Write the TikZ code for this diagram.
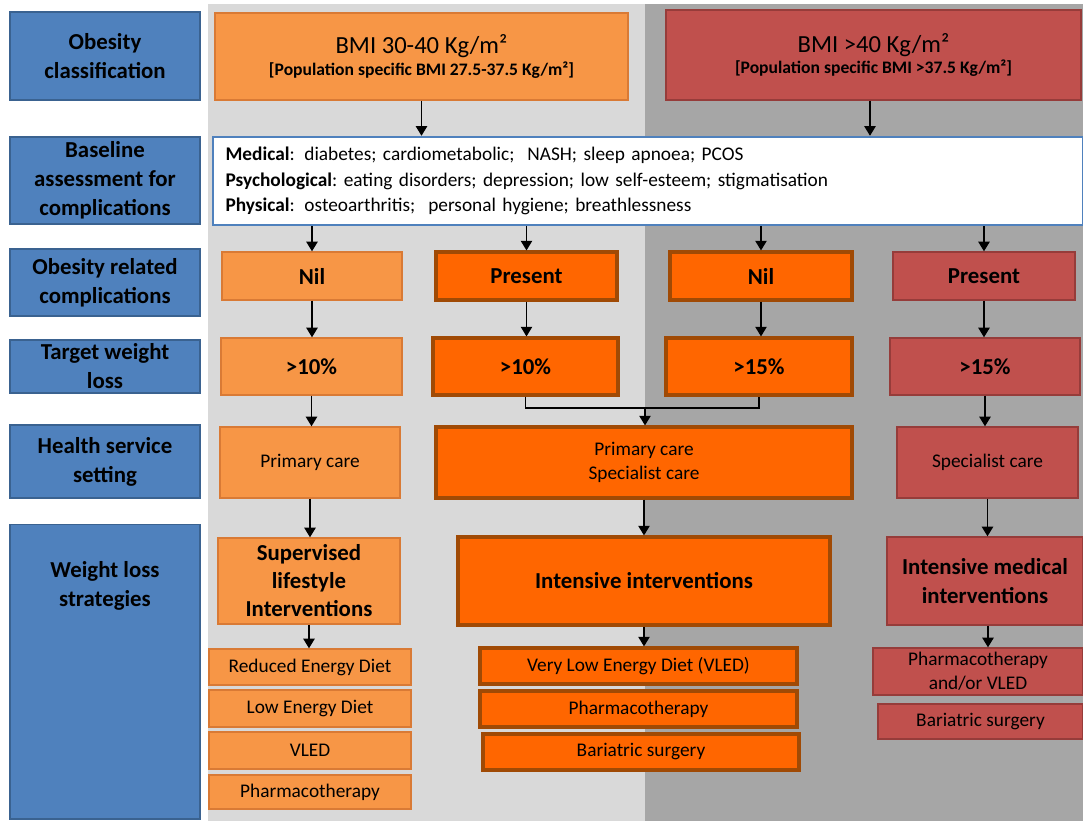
\documentclass[tikz,border=0pt]{standalone}
\usepackage{fontspec}
\setmainfont{Carlito}
\usetikzlibrary{arrows.meta}

\definecolor{bluefill}{HTML}{4F81BD}
\definecolor{blueedge}{HTML}{3A6290}
\definecolor{litefill}{HTML}{F79646}
\definecolor{liteedge}{HTML}{D97A35}
\definecolor{hotfill}{HTML}{FF6600}
\definecolor{hotedge}{HTML}{A04A05}
\definecolor{sevfill}{HTML}{C0504D}
\definecolor{sevedge}{HTML}{963C3A}
\definecolor{paleback}{HTML}{D9D9D9}
\definecolor{darkback}{HTML}{A6A6A6}

\begin{document}
\begin{tikzpicture}[x=0.02cm, y=-0.02cm,
        cat/.style={draw=blueedge, fill=bluefill, line width=0.6pt, align=center, inner sep=0pt,
            minimum width=3.8cm, font=\bfseries\fontsize{13}{16.5}\selectfont},
        lite/.style={draw=liteedge, fill=litefill, line width=0.8pt, align=center, inner sep=0pt},
        hot/.style={draw=hotedge, fill=hotfill, line width=1.8pt, align=center, inner sep=0pt},
        sev/.style={draw=sevedge, fill=sevfill, line width=0.8pt, align=center, inner sep=0pt},
        big/.style={font=\bfseries\fontsize{13}{16}\selectfont},
        small/.style={font=\fontsize{11}{14}\selectfont},
        link/.style={-{Triangle[length=5.5pt,width=6.5pt]}, line width=0.75pt}]
        \useasboundingbox (0,0) rectangle (1083,821);
        \fill[paleback] (208,4) rectangle (645,821);
        \fill[darkback] (645,4) rectangle (1083,821);

        % row labels
        \node[cat, minimum height=1.76cm] (cls) at (105,56) {Obesity\\classification};
        \node[cat, minimum height=1.74cm] (base) at (105,180.5) {Baseline\\assessment for\\complications};
        \node[cat, minimum height=1.34cm] (comp) at (105,282.5) {Obesity related\\complications};
        \node[cat, minimum height=1.06cm] (target) at (105,366.5) {Target weight\\loss};
        \node[cat, minimum height=1.46cm] (health) at (105,461.5) {Health service\\setting};
        \node[cat, minimum height=5.9cm] (strat) at (105,671.5) {};
        \node[align=center, font=\bfseries\fontsize{13}{16.5}\selectfont] (stratlbl) at (105,586) {Weight loss\\strategies};

        % BMI classes
        \node[lite, minimum width=8.26cm, minimum height=1.74cm] (bmi1) at (421.5,56.5)
            {{\fontsize{14}{20}\selectfont BMI 30-40 Kg/m²}\\
             {\bfseries\fontsize{10}{12}\selectfont [Population specific BMI 27.5-37.5 Kg/m²]}};
        \node[sev, minimum width=8.3cm, minimum height=1.8cm] (bmi2) at (873.5,55)
            {{\fontsize{14}{20}\selectfont BMI >40 Kg/m²}\\
             {\bfseries\fontsize{10}{12}\selectfont [Population specific BMI >37.5 Kg/m²]}};

        % assessment
        \node[draw=bluefill, fill=white, line width=1.4pt, minimum width=17.4cm, minimum height=1.76cm,
            text width=16.9cm, align=left, inner sep=0pt, font=\fontsize{11}{14.7}\selectfont] (assess) at (648,181)
            {\textbf{Medical}: diabetes; cardiometabolic;\ \ NASH; sleep apnoea; PCOS\\
             \textbf{Psychological}:\ eating disorders; depression;\ low self-esteem; stigmatisation\\
             \textbf{Physical}: osteoarthritis;\ \ personal hygiene; breathlessness};

        % complications
        \node[lite, big, minimum width=3.6cm, minimum height=0.96cm] (nil1) at (312,276) {Nil};
        \node[hot, big, minimum width=3.62cm, minimum height=0.96cm] (pres1) at (526.5,276) {Present};
        \node[hot, big, minimum width=3.64cm, minimum height=0.96cm] (nil2) at (761,276) {Nil};
        \node[sev, big, minimum width=3.64cm, minimum height=0.96cm] (pres2) at (984,276) {Present};

        % target weight loss
        \node[lite, big, minimum width=3.62cm, minimum height=1.14cm] (tgt1) at (311.5,366.5) {>10\%};
        \node[hot, big, minimum width=3.7cm, minimum height=1.14cm] (tgt2) at (525.5,366.5) {>10\%};
        \node[hot, big, minimum width=3.72cm, minimum height=1.14cm] (tgt3) at (759,366.5) {>15\%};
        \node[sev, big, minimum width=3.8cm, minimum height=1.14cm] (tgt4) at (985,366.5) {>15\%};

        % setting
        \node[lite, small, minimum width=3.6cm, minimum height=1.42cm] (care1) at (310,462.5) {Primary care};
        \node[hot, small, minimum width=8.32cm, minimum height=1.42cm] (care2) at (644,462.5) {Primary care\\Specialist care};
        \node[sev, small, minimum width=3.62cm, minimum height=1.42cm] (care3) at (987.5,462.5) {Specialist care};
        \coordinate (join) at (645,408);

        % strategies
        \node[lite, font=\bfseries\fontsize{13}{15.9}\selectfont, minimum width=3.64cm, minimum height=1.72cm] (plan1) at (309,581)
            {Supervised\\lifestyle\\Interventions};
        \node[hot, big, minimum width=7.44cm, minimum height=1.76cm] (plan2) at (644,581) {Intensive interventions};
        \node[sev, font=\bfseries\fontsize{13}{16.5}\selectfont, minimum width=3.92cm, minimum height=1.76cm] (plan3) at (985,581)
            {Intensive medical\\interventions};

        \node[lite, small, minimum width=4.04cm, minimum height=0.72cm] (opt1) at (310,667) {Reduced Energy Diet};
        \node[lite, small, minimum width=4.04cm, minimum height=0.74cm] (opt2) at (310,708.5) {Low Energy Diet};
        \node[lite, small, minimum width=4.04cm, minimum height=0.74cm] (opt3) at (310,750.5) {VLED};
        \node[lite, small, minimum width=4.04cm, minimum height=0.68cm] (opt4) at (310,792) {Pharmacotherapy};

        \node[hot, small, minimum width=6.34cm, minimum height=0.72cm] (opt5) at (638.5,666) {Very Low Energy Diet (VLED)};
        \node[hot, small, minimum width=6.34cm, minimum height=0.72cm] (opt6) at (638.5,709) {Pharmacotherapy};
        \node[hot, small, minimum width=6.32cm, minimum height=0.72cm] (opt7) at (641,752) {Bariatric surgery};

        \node[sev, font=\fontsize{11}{13.5}\selectfont, minimum width=4.2cm, minimum height=0.94cm] (opt8) at (978,671.5)
            {Pharmacotherapy\\and/or VLED};
        \node[sev, small, minimum width=4.1cm, minimum height=0.7cm] (opt9) at (980.5,721.5) {Bariatric surgery};

        % connectors
        \draw[link] (bmi1.south) -- (bmi1.south |- assess.north);
        \draw[link] (bmi2.south -| 870,0) -- (assess.north -| 870,0);
        \draw[link] (assess.south -| nil1) -- (nil1);
        \draw[link] (assess.south -| pres1) -- (pres1);
        \draw[link] (assess.south -| nil2) -- (nil2);
        \draw[link] (assess.south -| pres2) -- (pres2);
        \draw[link] (nil1.south) -- (nil1.south |- tgt1.north);
        \draw[link] (pres1.south) -- (pres1.south |- tgt2.north);
        \draw[link] (nil2.south) -- (nil2.south |- tgt3.north);
        \draw[link] (pres2.south) -- (pres2.south |- tgt4.north);
        \draw[line width=0.75pt] (tgt2.south) |- (join) -| (tgt3.south);
        \draw[link] (join) -- (join |- care2.north);
        \draw[link] (tgt1.south) -- (tgt1.south |- care1.north);
        \draw[link] (tgt4.south) -- (tgt4.south |- care3.north);
        \draw[link] (care1.south) -- (care1.south |- plan1.north);
        \draw[link] (care2.south) -- (care2.south |- plan2.north);
        \draw[link] (care3.south) -- (care3.south |- plan3.north);
        \draw[link] (plan1.south) -- (plan1.south |- opt1.north);
        \draw[link] (plan2.south) -- (plan2.south |- opt5.north);
        \draw[link] (plan3.south -| 988,0) -- (opt8.north -| 988,0);
    \end{tikzpicture}
\end{document}
